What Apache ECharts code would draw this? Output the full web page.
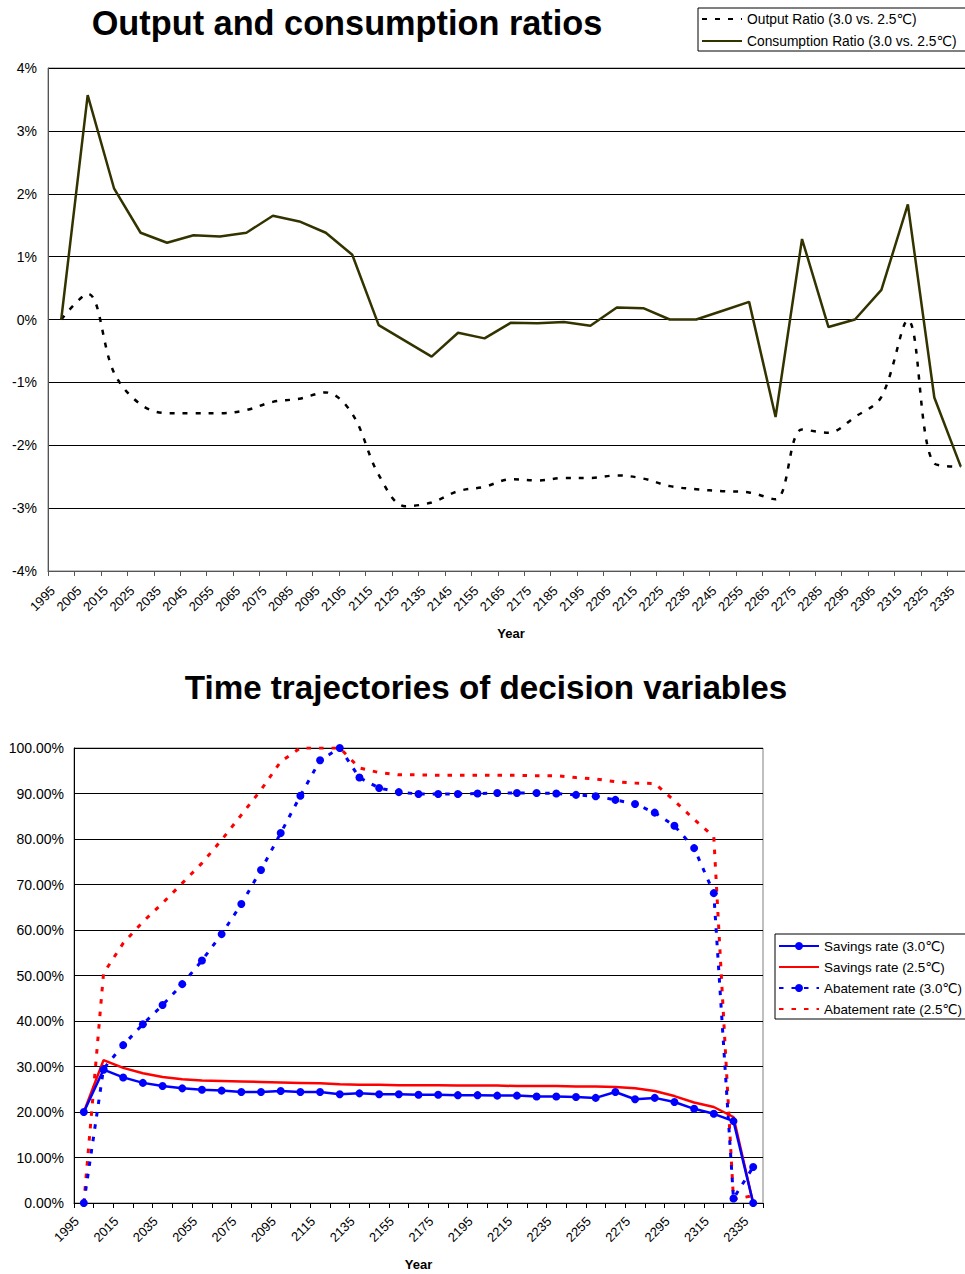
<!DOCTYPE html>
<html>
<head>
<meta charset="utf-8">
<script src="https://cdn.jsdelivr.net/npm/echarts@6/dist/echarts.min.js"></script>
<style>
html,body{margin:0;padding:0;background:#fff;}
#chart{width:965px;height:1274px;}
</style>
</head>
<body>
<div id="chart"></div>
<script>
// ---------- data ----------
const years = ['1995','2005','2015','2025','2035','2045','2055','2065','2075','2085','2095','2105','2115','2125','2135','2145','2155','2165','2175','2185','2195','2205','2215','2225','2235','2245','2255','2265','2275','2285','2295','2305','2315','2325','2335'];

// top chart (values in %)
const outputRatio = [0, 0.41, -0.85, -1.35, -1.49, -1.49, -1.49, -1.44, -1.31, -1.26, -1.16, -1.50, -2.47, -2.97, -2.91, -2.73, -2.66, -2.54, -2.56, -2.52, -2.52, -2.48, -2.53, -2.65, -2.70, -2.73, -2.75, -2.86, -1.75, -1.80, -1.55, -1.23, -0.01, -2.29, -2.34];
const consumptionRatio = [0, 3.57, 2.08, 1.38, 1.22, 1.34, 1.32, 1.38, 1.65, 1.56, 1.38, 1.03, -0.09, -0.34, -0.59, -0.21, -0.30, -0.05, -0.06, -0.04, -0.10, 0.19, 0.18, 0.0, 0.0, 0.14, 0.28, -1.55, 1.28, -0.12, 0.0, 0.47, 1.83, -1.24, -2.34];

// bottom chart (values in %)
const savings30 = [20.0, 29.3, 27.6, 26.4, 25.7, 25.2, 24.9, 24.7, 24.4, 24.4, 24.6, 24.4, 24.4, 23.9, 24.1, 23.9, 23.9, 23.8, 23.8, 23.7, 23.7, 23.6, 23.6, 23.4, 23.4, 23.3, 23.1, 24.4, 22.8, 23.1, 22.2, 20.7, 19.6, 18.0, 0];
const savings25 = [20.0, 31.4, 29.7, 28.5, 27.7, 27.2, 26.9, 26.8, 26.7, 26.6, 26.5, 26.4, 26.3, 26.1, 26.0, 26.0, 25.9, 25.9, 25.9, 25.8, 25.8, 25.8, 25.7, 25.7, 25.7, 25.6, 25.6, 25.5, 25.2, 24.6, 23.5, 22.1, 21.1, 18.9, 0];
const abatement30 = [0, 29.5, 34.7, 39.3, 43.5, 48.1, 53.3, 59.1, 65.7, 73.2, 81.3, 89.5, 97.3, 100, 93.5, 91.2, 90.3, 89.9, 89.9, 89.9, 90.0, 90.1, 90.1, 90.1, 90.0, 89.7, 89.4, 88.6, 87.7, 85.8, 82.9, 78.0, 68.1, 1.0, 7.9];
const abatement25 = [0, 50.5, 57.1, 61.8, 65.9, 70.3, 74.7, 79.8, 85.3, 90.8, 97.0, 100, 100, 100, 95.6, 94.6, 94.1, 94.1, 94.0, 94.0, 94.0, 94.0, 94.0, 93.9, 93.9, 93.5, 93.2, 92.6, 92.3, 92.2, 88.4, 84.3, 80.5, 0.8, 1.6];

const topTitle = 'Output and consumption ratios';
const bottomTitle = 'Time trajectories of decision variables';
const topNames = ['Output Ratio (3.0 vs. 2.5\u2103)', 'Consumption Ratio (3.0 vs. 2.5\u2103)'];
const bottomNames = ['Savings rate (3.0\u2103)', 'Savings rate (2.5\u2103)', 'Abatement rate (3.0\u2103)', 'Abatement rate (2.5\u2103)'];
const axisName = 'Year';

// ---------- chart ----------
const FONT = '"Liberation Sans", Arial, "DejaVu Sans", sans-serif';
const chart = echarts.init(document.getElementById('chart'), null, {renderer: 'svg'});

const baseLabel = {color: '#000', fontFamily: FONT, fontSize: 13};
const hiddenSymbol = {opacity: 0, color: 'rgba(0,0,0,0)', borderWidth: 0};

const option = {
  animation: false,
  backgroundColor: '#fff',
  textStyle: {fontFamily: FONT, color: '#000'},
  graphic: [
    {type: 'text', x: 347, y: 23, style: {text: topTitle, font: 'bold 34.3px ' + FONT, fill: '#000', align: 'center', verticalAlign: 'middle', textAlign: 'center', textVerticalAlign: 'middle'}},
    {type: 'text', x: 486, y: 687, style: {text: bottomTitle, font: 'bold 33.2px ' + FONT, fill: '#000', align: 'center', verticalAlign: 'middle', textAlign: 'center', textVerticalAlign: 'middle'}}
  ],
  legend: [
    {
      data: [
        {name: topNames[0], itemStyle: hiddenSymbol},
        {name: topNames[1], itemStyle: hiddenSymbol}
      ],
      orient: 'vertical', left: 698, top: 8,
      padding: [4, 60, 3, 3], itemGap: 8, itemWidth: 40, itemHeight: 10,
      borderColor: '#000', borderWidth: 1, backgroundColor: '#fff',
      selectedMode: false,
      textStyle: {fontFamily: FONT, fontSize: 13.8, color: '#000', lineHeight: 14}
    },
    {
      data: [
        {name: bottomNames[0]},
        {name: bottomNames[1], itemStyle: hiddenSymbol},
        {name: bottomNames[2]},
        {name: bottomNames[3], itemStyle: hiddenSymbol}
      ],
      orient: 'vertical', left: 775, top: 934,
      padding: [5, 60, 3, 3], itemGap: 7, itemWidth: 40, itemHeight: 10,
      borderColor: '#000', borderWidth: 1, backgroundColor: '#fff',
      selectedMode: false,
      textStyle: {fontFamily: FONT, fontSize: 13.4, color: '#000', lineHeight: 14}
    }
  ],
  grid: [
    {left: 48, top: 68, width: 926, height: 503, outerBoundsMode: 'none', containLabel: false,
     show: true, borderColor: '#808080', borderWidth: 1},
    {left: 74, top: 748, width: 689, height: 455, outerBoundsMode: 'none', containLabel: false,
     show: true, borderColor: '#808080', borderWidth: 1}
  ],
  xAxis: [
    {
      type: 'category', gridIndex: 0, data: years, boundaryGap: true,
      name: axisName, nameLocation: 'middle', nameGap: 56,
      nameTextStyle: {fontFamily: FONT, fontSize: 13, fontWeight: 'bold', color: '#000'},
      axisLine: {onZero: false, lineStyle: {color: '#555', width: 1}},
      axisTick: {show: true, interval: 0, length: 5, lineStyle: {color: '#555'}},
      axisLabel: Object.assign({}, baseLabel, {interval: 0, rotate: 45, margin: 9, padding: [0, 12, 0, 0]}),
      splitLine: {show: false}
    },
    {
      type: 'category', gridIndex: 1, data: years, boundaryGap: true,
      name: axisName, nameLocation: 'middle', nameGap: 55,
      nameTextStyle: {fontFamily: FONT, fontSize: 13, fontWeight: 'bold', color: '#000'},
      axisLine: {onZero: false, lineStyle: {color: '#000', width: 1}},
      axisTick: {show: true, interval: 0, length: 5, lineStyle: {color: '#000'}},
      axisLabel: Object.assign({}, baseLabel, {interval: 1, rotate: 45, margin: 9, padding: [0, 10, 0, 0]}),
      splitLine: {show: false}
    }
  ],
  yAxis: [
    {
      type: 'value', gridIndex: 0, min: -4, max: 4, interval: 1,
      axisLine: {show: true, lineStyle: {color: '#555', width: 1}},
      axisTick: {show: false},
      axisLabel: Object.assign({}, baseLabel, {fontSize: 14, margin: 11, formatter: v => v + '%'}),
      splitLine: {show: true, lineStyle: {color: '#000', width: 1}}
    },
    {
      type: 'value', gridIndex: 1, min: 0, max: 100, interval: 10,
      axisLine: {show: true, lineStyle: {color: '#000', width: 1}},
      axisTick: {show: false},
      axisLabel: Object.assign({}, baseLabel, {fontSize: 14, margin: 10, formatter: v => v.toFixed(2) + '%'}),
      splitLine: {show: true, lineStyle: {color: '#000', width: 1}}
    }
  ],
  series: [
    {
      name: topNames[0], type: 'line', xAxisIndex: 0, yAxisIndex: 0, data: outputRatio,
      smooth: 0.35, showSymbol: false, symbol: 'none',
      lineStyle: {color: '#000', width: 2.5, type: [5, 8]}, itemStyle: {color: '#000'}
    },
    {
      name: topNames[1], type: 'line', xAxisIndex: 0, yAxisIndex: 0, data: consumptionRatio,
      showSymbol: false, symbol: 'none',
      lineStyle: {color: '#333300', width: 2.5}, itemStyle: {color: '#333300'}
    },
    {
      name: bottomNames[3], type: 'line', xAxisIndex: 1, yAxisIndex: 1, data: abatement25,
      showSymbol: false, symbol: 'none', z: 2,
      lineStyle: {color: '#ff0000', width: 3, type: [4.5, 8]}, itemStyle: {color: '#ff0000'}
    },
    {
      name: bottomNames[2], type: 'line', xAxisIndex: 1, yAxisIndex: 1, data: abatement30,
      symbol: 'circle', symbolSize: 8, showSymbol: true, z: 3,
      lineStyle: {color: '#0000ff', width: 3, type: [4.5, 8]}, itemStyle: {color: '#0000ff'}
    },
    {
      name: bottomNames[1], type: 'line', xAxisIndex: 1, yAxisIndex: 1, data: savings25,
      showSymbol: false, symbol: 'none', z: 4,
      lineStyle: {color: '#ff0000', width: 2.5}, itemStyle: {color: '#ff0000'}
    },
    {
      name: bottomNames[0], type: 'line', xAxisIndex: 1, yAxisIndex: 1, data: savings30,
      symbol: 'circle', symbolSize: 8, showSymbol: true, z: 5,
      lineStyle: {color: '#0000ff', width: 2.5}, itemStyle: {color: '#0000ff'}
    }
  ]
};
chart.setOption(option);
</script>
</body>
</html>
